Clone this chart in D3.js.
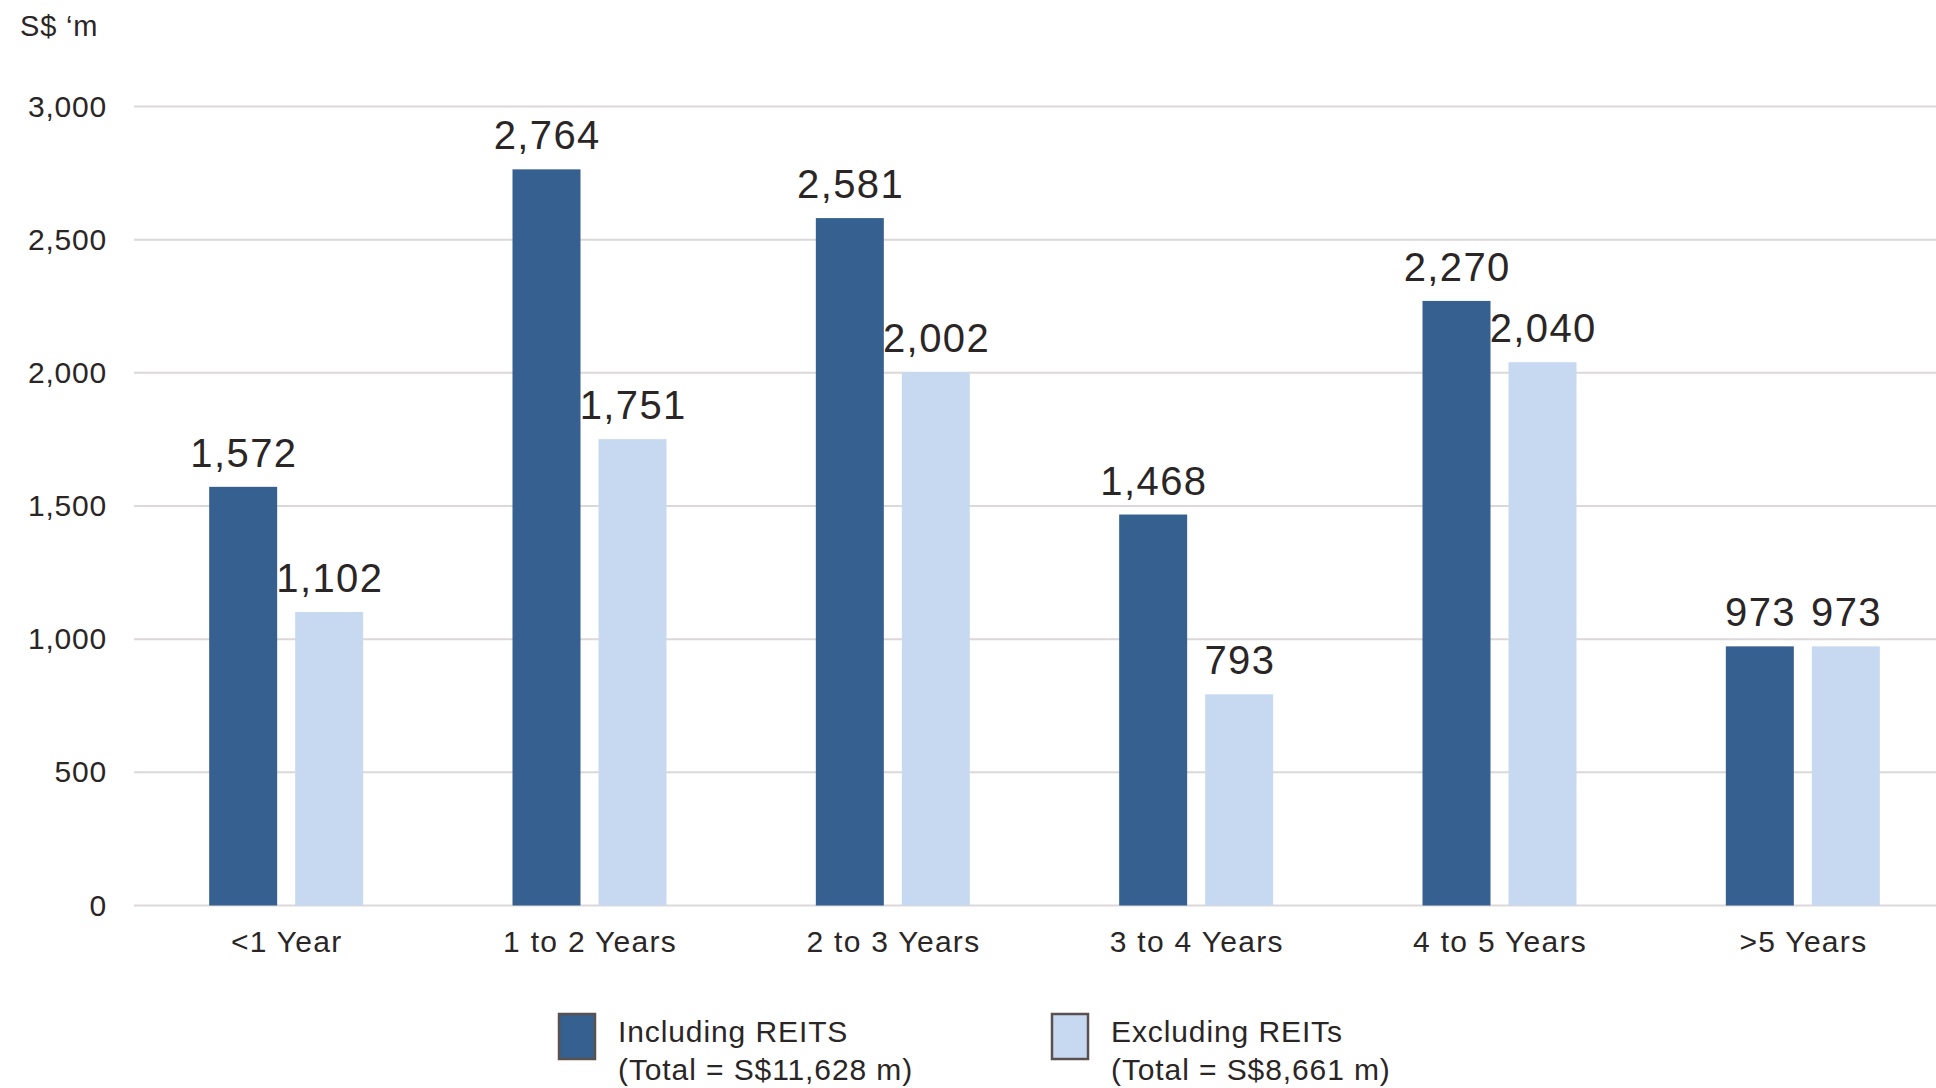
<!DOCTYPE html>
<html>
<head>
<meta charset="utf-8">
<script src="https://cdn.jsdelivr.net/npm/d3@7"></script>
<style>
  html, body { margin: 0; padding: 0; background: #fff; }
  svg { display: block; font-family: "Liberation Sans", Arial, sans-serif; }
</style>
</head>
<body>
<svg id="chart" width="1936" height="1088"></svg>
<script>
// Debt maturity profile, S$ millions
const categories = ["<1 Year", "1 to 2 Years", "2 to 3 Years", "3 to 4 Years", "4 to 5 Years", ">5 Years"];
const seriesNames = ["Including REITS", "Excluding REITs"];
const includingReits = [1572, 2764, 2581, 1468, 2270, 973];
const excludingReits = [1102, 1751, 2002, 793, 2040, 973];
const legendTotals = ["(Total = S$11,628 m)", "(Total = S$8,661 m)"];
const yTicks = [0, 500, 1000, 1500, 2000, 2500, 3000];
const colors = ["#36608f", "#c7d9f0"];

const svg = d3.select("#chart");
const textColor = "#2b2626";

const y = d3.scaleLinear().domain([0, 3000]).range([905.5, 106.5]);
const x0 = d3.scaleBand().domain(categories).range([134.5, 1954.5]);
const x1 = d3.scaleBand().domain(seriesNames).range([0, 154]).paddingInner(2 - 154 / 86);
const groupOffset = (x0.bandwidth() - 154) / 2;

// gridlines
const grid = svg.append("g");
grid.selectAll("line").data(yTicks).join("line")
  .attr("x1", 134).attr("x2", 1936)
  .attr("y1", d => y(d)).attr("y2", d => y(d))
  .attr("stroke", "#dcd7d8").attr("stroke-width", 2);

// y axis labels
const yAxis = d3.axisLeft(y).tickValues(yTicks).tickFormat(d3.format(",")).tickSize(0).tickPadding(0);
svg.append("g").attr("transform", "translate(107,0)").call(yAxis)
  .call(g => g.select(".domain").remove())
  .selectAll("text")
  .attr("font-size", 30).attr("fill", textColor)
  .attr("letter-spacing", 0.8)
  .attr("font-family", "Liberation Sans, Arial, sans-serif");

// unit label
svg.append("text").attr("x", 20).attr("y", 36).attr("font-size", 29)
  .attr("letter-spacing", 0.8)
  .attr("fill", textColor).text("S$ \u2018m");

// bars
const rows = categories.map((c, i) => ({
  cat: c,
  vals: [
    { key: seriesNames[0], value: includingReits[i], color: colors[0] },
    { key: seriesNames[1], value: excludingReits[i], color: colors[1] }
  ]
}));

const groups = svg.append("g").selectAll("g").data(rows).join("g")
  .attr("transform", d => `translate(${x0(d.cat) + groupOffset},0)`);

groups.selectAll("rect").data(d => d.vals).join("rect")
  .attr("x", d => x1(d.key))
  .attr("y", d => y(d.value))
  .attr("width", x1.bandwidth())
  .attr("height", d => y(0) - y(d.value))
  .attr("fill", d => d.color);

groups.selectAll("text.val").data(d => d.vals).join("text")
  .attr("class", "val")
  .attr("x", d => x1(d.key) + x1.bandwidth() / 2 + 0.7)
  .attr("y", d => y(d.value) - 20)
  .attr("text-anchor", "middle")
  .attr("font-size", 40)
  .attr("letter-spacing", 1.4)
  .attr("fill", textColor)
  .text(d => d3.format(",")(d.value));

// category labels
const xAxis = d3.axisBottom(x0).tickSize(0).tickPadding(0);
svg.append("g").attr("transform", "translate(0,931)").call(xAxis)
  .call(g => g.select(".domain").remove())
  .selectAll("text")
  .attr("font-size", 30).attr("fill", textColor)
  .attr("letter-spacing", 1.3)
  .attr("dx", 0.6)
  .attr("font-family", "Liberation Sans, Arial, sans-serif");

// legend
const legendX = [558, 1051];
const legend = svg.append("g").selectAll("g").data(seriesNames).join("g")
  .attr("transform", (d, i) => `translate(${legendX[i]},0)`);
legend.append("rect")
  .attr("x", 1).attr("y", 1014).attr("width", 36).attr("height", 45)
  .attr("fill", (d, i) => colors[i])
  .attr("stroke", "#5a5050").attr("stroke-width", 2.5);
legend.append("text")
  .attr("x", 60).attr("y", 1042).attr("font-size", 30).attr("fill", textColor)
  .attr("letter-spacing", 0.9)
  .text(d => d);
legend.append("text")
  .attr("x", 60).attr("y", 1080).attr("font-size", 30).attr("fill", textColor)
  .attr("letter-spacing", 0.9)
  .text((d, i) => legendTotals[i]);
</script>
</body>
</html>
